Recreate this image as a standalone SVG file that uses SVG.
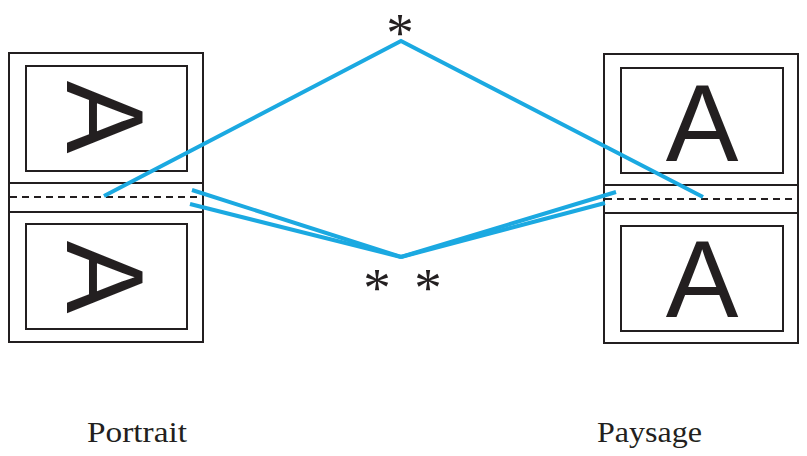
<svg xmlns="http://www.w3.org/2000/svg" width="807" height="456" viewBox="0 0 807 456">
<style>
.pg{fill:none;stroke:#231f20;stroke-width:2}
.dash{fill:none;stroke:#231f20;stroke-width:2;stroke-dasharray:7 5}
.blue{fill:none;stroke:#1ba9e1;stroke-width:4;stroke-linejoin:miter}
.A{font-family:"Liberation Sans",Arial,sans-serif;font-size:109px;fill:#231f20;text-anchor:middle}
.star{font-family:"Liberation Serif","Times New Roman",serif;font-size:55px;fill:#231f20;text-anchor:middle}
.lbl{font-family:"Liberation Serif","Times New Roman",serif;font-size:30px;fill:#231f20}
</style>
<rect width="807" height="456" fill="#fff"/>
<g id="portrait">
<rect class="pg" x="9" y="53" width="194" height="289"/>
<line class="pg" x1="9" y1="183" x2="203" y2="183"/>
<line class="pg" x1="9" y1="212" x2="203" y2="212"/>
<line class="dash" x1="10" y1="197" x2="202" y2="197"/>
<rect class="pg" x="26" y="66" width="161" height="105"/>
<rect class="pg" x="26" y="224" width="161" height="105"/>
<text class="A" transform="translate(106,117) rotate(90)" x="0" y="39">A</text>
<text class="A" transform="translate(106,277) rotate(90)" x="0" y="39">A</text>
</g>
<g id="paysage">
<rect class="pg" x="604" y="54" width="194" height="289"/>
<line class="pg" x1="604" y1="185" x2="798" y2="185"/>
<line class="pg" x1="604" y1="213" x2="798" y2="213"/>
<line class="dash" x1="605" y1="199" x2="797" y2="199"/>
<rect class="pg" x="621" y="68" width="162" height="105"/>
<rect class="pg" x="621" y="226" width="162" height="105"/>
<text class="A" x="702" y="161">A</text>
<text class="A" x="702" y="317">A</text>
</g>
<g id="connectors">
<polyline class="blue" points="104,196 401,41 703,197"/>
<polyline class="blue" points="192,190 401,257 616,192"/>
<line class="blue" x1="190" y1="204" x2="401" y2="257"/>
<line class="blue" x1="401" y1="257" x2="605" y2="203"/>
</g>
<g id="labels">
<text class="star" x="400" y="51">*</text>
<text class="star" x="377" y="306">*</text>
<text class="star" x="428" y="306">*</text>
<text class="lbl" x="87" y="442" textLength="100" lengthAdjust="spacingAndGlyphs">Portrait</text>
<text class="lbl" x="597" y="442" textLength="105" lengthAdjust="spacingAndGlyphs">Paysage</text>
</g>
</svg>
